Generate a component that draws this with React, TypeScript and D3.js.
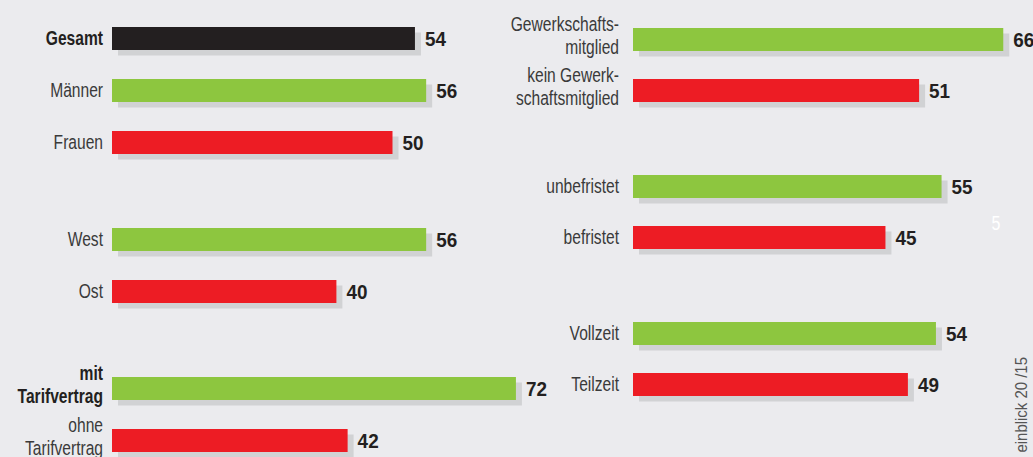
import React from "react";
import * as d3 from "d3";

// ---- data ----
const leftCategories = ["Gesamt", "Männer", "Frauen", "West", "Ost", "mit\nTarifvertrag", "ohne\nTarifvertrag"];
const leftValues = [54, 56, 50, 56, 40, 72, 42];
const leftGroups = [0, 0, 0, 1, 1, 2, 2];
const leftKinds = ["total", "pos", "neg", "pos", "neg", "pos", "neg"];
const leftBold = [true, false, false, false, false, true, false];

const rightCategories = ["Gewerkschafts-\nmitglied", "kein Gewerk-\nschaftsmitglied", "unbefristet", "befristet", "Vollzeit", "Teilzeit"];
const rightValues = [66, 51, 55, 45, 54, 49];
const rightGroups = [0, 0, 1, 1, 2, 2];
const rightKinds = ["pos", "neg", "pos", "neg", "pos", "neg"];

const pageNumber = "5";
const sourceText = "einblick 20 /15";

// ---- style ----
const W = 1033;
const H = 457;
const BG = "#ebebee";
const COLORS: Record<string, string> = { total: "#231f20", pos: "#8dc63f", neg: "#ed1c24" };
const SHADOW = "#d1d2d4";
const FONT = "'Liberation Sans', Arial, sans-serif";
const BAR_H = 23;

const widthScale = d3.scaleLinear().domain([0, 100]).range([0, 561]);

type Panel = {
  cats: string[];
  vals: number[];
  groups: number[];
  kinds: string[];
  bold: boolean[];
  x0: number;
  labelX: number;
  top0: number;
  step: number;
  extra: number;
};

const panels: Panel[] = [
  { cats: leftCategories, vals: leftValues, groups: leftGroups, kinds: leftKinds, bold: leftBold, x0: 112, labelX: 103, top0: 27, step: 52, extra: 45 },
  { cats: rightCategories, vals: rightValues, groups: rightGroups, kinds: rightKinds, bold: rightCategories.map(() => false), x0: 633, labelX: 619, top0: 28, step: 51, extra: 45 },
];

function NText({
  x,
  y,
  anchor = "start",
  size,
  bold = false,
  fill,
  sx = 0.8,
  children,
}: {
  x: number;
  y: number;
  anchor?: string;
  size: number;
  bold?: boolean;
  fill: string;
  sx?: number;
  children: React.ReactNode;
}) {
  return (
    <g transform={`translate(${x},${y}) scale(${sx},1)`}>
      <text
        x={0}
        y={0}
        textAnchor={anchor}
        fontFamily={FONT}
        fontSize={size}
        fontWeight={bold ? "bold" : "normal"}
        fill={fill}
      >
        {children}
      </text>
    </g>
  );
}

function PanelView({ p }: { p: Panel }) {
  return (
    <g>
      {p.cats.map((c, i) => {
        const y = p.top0 + i * p.step + p.groups[i] * p.extra;
        const w = widthScale(p.vals[i]);
        const cy = y + BAR_H / 2;
        const lines = c.split("\n");
        const lblFill = p.bold[i] ? "#231f20" : "#3a3a3a";
        return (
          <g key={i}>
            <rect x={p.x0 + 6} y={y + 5.5} width={w} height={BAR_H} fill={SHADOW} />
            <rect x={p.x0} y={y} width={w} height={BAR_H} fill={COLORS[p.kinds[i]]} />
            <NText x={p.x0 + w + 10} y={cy + 7.5} size={21} sx={0.9} bold fill="#231f20">
              {p.vals[i]}
            </NText>
            {lines.length === 1 ? (
              <NText x={p.labelX} y={cy + 6.5} anchor="end" size={19.5} bold={p.bold[i]} fill={lblFill}>
                {c}
              </NText>
            ) : (
              lines.map((l, k) => (
                <NText key={k} x={p.labelX} y={cy - 9 + k * 23} anchor="end" size={19.5} bold={p.bold[i]} fill={lblFill}>
                  {l}
                </NText>
              ))
            )}
          </g>
        );
      })}
    </g>
  );
}

export default function App() {
  return (
    <div style={{ position: "absolute", left: 0, top: 0 }}>
      <svg width={W} height={H} style={{ display: "block" }}>
        <rect x={0} y={0} width={W} height={H} fill={BG} />
        {panels.map((p, i) => (
          <PanelView key={i} p={p} />
        ))}
        <NText x={996} y={230} anchor="middle" size={20} fill="#ffffff">
          {pageNumber}
        </NText>
        <g transform="translate(1027,357) rotate(-90) scale(0.88,1)">
          <text textAnchor="end" fontFamily={FONT} fontSize={17} fill="#555555">
            {sourceText}
          </text>
        </g>
      </svg>
    </div>
  );
}
